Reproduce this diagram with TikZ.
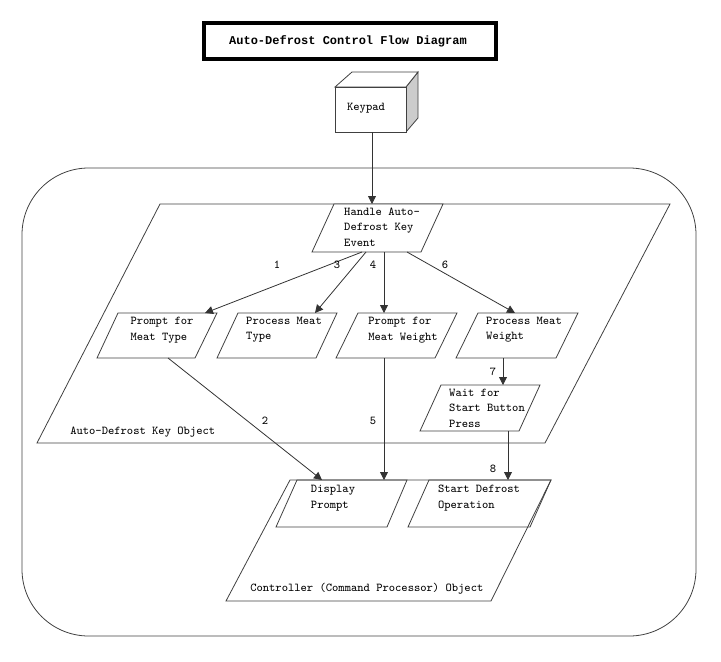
\documentclass[tikz,border=0pt]{standalone}
\usepackage{fontspec}
\newfontfamily\titlefont{Liberation Mono}
\usetikzlibrary{arrows.meta}
\begin{document}
\begin{tikzpicture}[x=0.75pt,y=-0.75pt,
  shp/.style={draw=black!75,line width=0.6pt},
  txt/.style={font=\ttfamily\fontsize{9}{11.5}\selectfont,align=left,inner sep=0pt},
  arr/.style={draw=black!80,line width=0.6pt,-{Triangle[length=6pt,width=6pt]}},
  lbl/.style={font=\ttfamily\fontsize{9}{10}\selectfont,inner sep=0pt}]
\useasboundingbox (0,0) rectangle (721,661);
% title
\draw[line width=2.5pt] (204,23) rectangle (496,59);
\node[font=\titlefont\bfseries\fontsize{9}{11}\selectfont] (title) at (348,41) {Auto-Defrost Control Flow Diagram};
% keypad cube
\draw[shp,fill=black!20] (406,87) -- (418,72) -- (418,118) -- (406,132) -- cycle;
\draw[shp,fill=white] (335,87) -- (352,72) -- (418,72) -- (406,87) -- cycle;
\draw[shp,fill=white] (335,87) rectangle (406,132);
\node[txt] (keypad) at (366,108) {Keypad};
\coordinate (kb) at (372,132);
% outer rounded rect
\draw[shp,rounded corners=50] (22,168) rectangle (696,636);
% key object
\draw[shp] (160,204) -- (670,204) -- (545,443) -- (37,443) -- cycle;
\node[txt,anchor=west] (kolbl) at (70,432) {Auto-Defrost Key Object};
% handle
\draw[shp,fill=white] (334,204) -- (443,204) -- (421,252) -- (312,252) -- cycle;
\node[txt] (handle) at (382,227) {Handle Auto-\\Defrost Key\\Event};
% row nodes
\draw[shp] (118,313) -- (217,313) -- (195,358) -- (97,358) -- cycle;
\node[txt] (pmt) at (162,330) {Prompt for\\Meat Type};
\draw[shp] (238,313) -- (337,313) -- (316,358) -- (217,358) -- cycle;
\node[txt] (pmty) at (284,330) {Process Meat\\Type};
\draw[shp] (358,313) -- (457,313) -- (435,358) -- (336,358) -- cycle;
\node[txt] (pmw) at (403,330) {Prompt for\\Meat Weight};
\draw[shp] (478,313) -- (578,313) -- (556,358) -- (456,358) -- cycle;
\node[txt] (pmwe) at (524,330) {Process Meat\\Weight};
\draw[shp] (441,385) -- (540,385) -- (519,431) -- (420,431) -- cycle;
\node[txt] (wait) at (487,408) {Wait for\\Start Button\\Press};
% controller
\draw[shp] (290,480) -- (551,480) -- (491,601) -- (226,601) -- cycle;
\node[txt,anchor=west] (clbl) at (250,589) {Controller (Command Processor) Object};
\draw[shp] (297,480) -- (407,480) -- (387,527) -- (276,527) -- cycle;
\node[txt] (disp) at (333,498) {Display\\Prompt};
\draw[shp] (429,480) -- (551,480) -- (530,527) -- (408,527) -- cycle;
\node[txt] (sdo) at (479,498) {Start Defrost\\Operation};
% coordinates
\coordinate (ht) at (372,204);
\coordinate (h1) at (362,252); \coordinate (h3) at (366,252);
\coordinate (h4) at (384,252); \coordinate (h6) at (407,252);
\coordinate (pmtT) at (205,313); \coordinate (pmtyT) at (315,313);
\coordinate (pmwT) at (384,313); \coordinate (pmweT) at (515,313);
\coordinate (pmtB) at (168,358); \coordinate (pmwB) at (384,358);
\coordinate (pmweB) at (503,358); \coordinate (waitT) at (503,385);
\coordinate (waitB) at (508,431);
\coordinate (dispT) at (322,480); \coordinate (dispT2) at (384,480);
\coordinate (sdoT) at (508,480);
% arrows
\draw[arr] (kb) -- (ht);
\draw[arr] (h1) -- (pmtT);
\draw[arr] (h3) -- (pmtyT);
\draw[arr] (h4) -- (pmwT);
\draw[arr] (h6) -- (pmweT);
\draw[arr] (pmweB) -- (waitT);
\draw[arr] (pmtB) -- (dispT);
\draw[arr] (pmwB) -- (dispT2);
\draw[arr] (waitB) -- (sdoT);
% labels
\node[lbl] (l1) at (277,265) {1};
\node[lbl] (l3) at (337,265) {3};
\node[lbl] (l4) at (373,265) {4};
\node[lbl] (l6) at (445,265) {6};
\node[lbl] (l7) at (493,372) {7};
\node[lbl] (l2) at (265,421) {2};
\node[lbl] (l5) at (373,421) {5};
\node[lbl] (l8) at (493,469) {8};
\end{tikzpicture}
\end{document}
